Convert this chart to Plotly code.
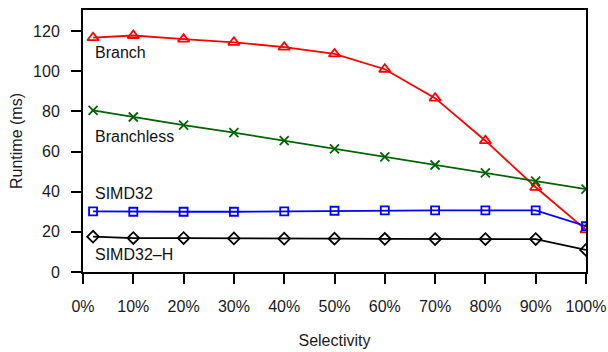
import plotly.graph_objects as go

selectivity = [2, 10, 20, 30, 40, 50, 60, 70, 80, 90, 100]
branch = [116.7, 117.8, 116.0, 114.4, 112.0, 108.6, 101.0, 86.6, 65.4, 42.2, 21.0]
branchless = [80.5, 77.2, 73.2, 69.4, 65.4, 61.3, 57.3, 53.3, 49.4, 45.3, 41.3]
simd32 = [30.2, 30.0, 30.0, 30.0, 30.2, 30.5, 30.7, 30.7, 30.7, 30.7, 22.8]
simd32h = [17.6, 16.9, 16.9, 16.7, 16.6, 16.6, 16.5, 16.4, 16.4, 16.4, 11.0]

x_ticks = [0, 10, 20, 30, 40, 50, 60, 70, 80, 90, 100]
x_ticklabels = [f"{v}%" for v in x_ticks]
y_ticks = [0, 20, 40, 60, 80, 100, 120]

series = [
    ("Branch", branch, "#ff0000", "triangle-up-open", 10, 109.5),
    ("Branchless", branchless, "#006400", "x-thin-open", 9, 67.5),
    ("SIMD32", simd32, "#0000ff", "square-open", 8, 39),
    ("SIMD32\u2013H", simd32h, "#000000", "diamond-open", 9, 8.5),
]

fig = go.Figure()
for name, vals, color, sym, size, ly in series:
    fig.add_trace(go.Scatter(
        x=selectivity, y=vals, mode="lines+markers", name=name,
        line=dict(color=color, width=1.8),
        marker=dict(symbol=sym, size=size, color=color, line=dict(color=color, width=1.8)),
        showlegend=False,
    ))
    fig.add_annotation(x=selectivity[0], y=ly, text=name, showarrow=False,
                       xanchor="left", yanchor="middle",
                       font=dict(size=16, color="#111111"))

font_family = "Liberation Sans, Arial, sans-serif"
fig.update_layout(
    width=608, height=352,
    margin=dict(l=83, r=22, t=10, b=80),
    paper_bgcolor="white", plot_bgcolor="white",
    font=dict(family=font_family, size=16, color="#1a1a1a"),
    xaxis=dict(range=[0, 100], tickvals=x_ticks, ticktext=x_ticklabels,
               showgrid=False, zeroline=False, showline=True, linecolor="black",
               linewidth=2, mirror=True, ticks="outside", ticklen=10, tickwidth=2,
               tickcolor="black", automargin=False, ticklabelstandoff=9,
               tickfont=dict(size=16),
               title=dict(text="Selectivity", standoff=21, font=dict(size=16))),
    yaxis=dict(range=[0, 130.5], tickvals=y_ticks,
               showgrid=False, zeroline=False, showline=True, linecolor="black",
               linewidth=2, mirror=True, ticks="outside", ticklen=10, tickwidth=2,
               tickcolor="black", automargin=False, ticklabelstandoff=8,
               tickfont=dict(size=16),
               title=dict(text="Runtime (ms)", standoff=6, font=dict(size=16))),
)

fig.write_html("out.html", config={"displayModeBar": False},
               post_script="document.body.style.margin='0';document.body.style.padding='0';")
